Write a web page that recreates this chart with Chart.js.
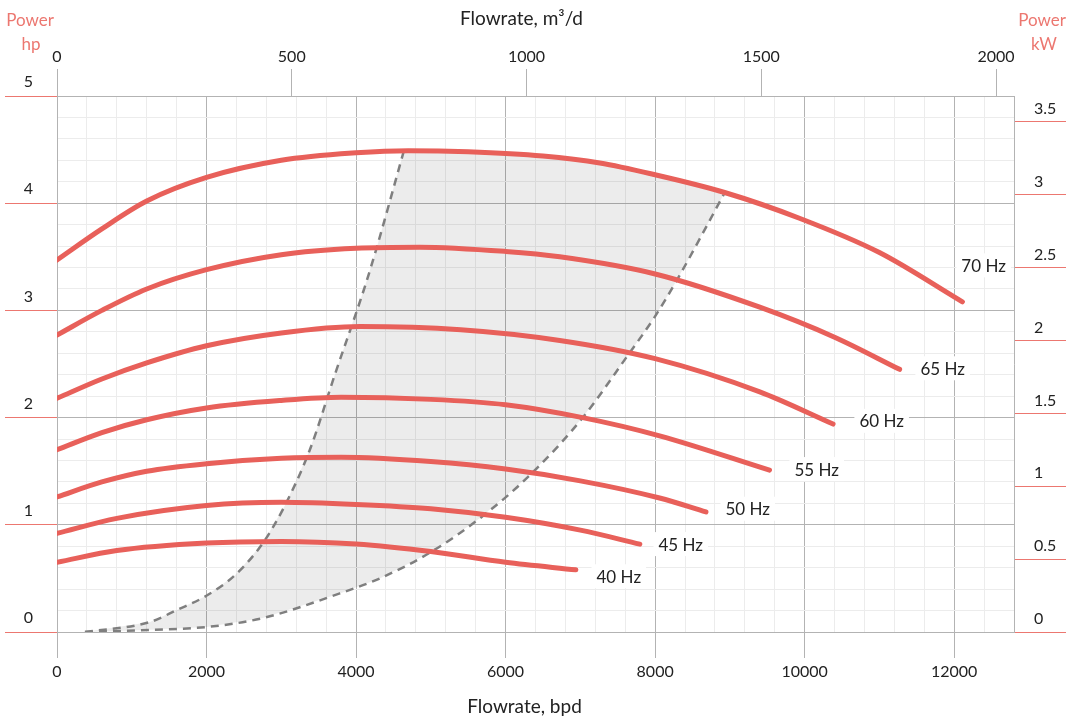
<!DOCTYPE html>
<html lang="en">
<head>
<meta charset="UTF-8">
<title>Pump power curves</title>
<script src="https://cdn.jsdelivr.net/npm/chart.js"></script>
<style>
  html, body { margin: 0; padding: 0; background: #fff; }
</style>
</head>
<body>
<canvas id="powerChart" width="1066" height="720"></canvas>
<script>
// flowrate in bpd, power in hp
const curve70 = [[0,3.47],[600,3.76],[1200,4.02],[2000,4.24],[3000,4.40],[4000,4.47],[4700,4.49],[5500,4.48],[6500,4.44],[7260,4.375],[7970,4.27],[8930,4.10],[9930,3.86],[11000,3.54],[12110,3.08]];
const curve65 = [[0,2.77],[600,3.00],[1200,3.20],[2000,3.38],[3000,3.52],[4000,3.58],[4850,3.59],[6000,3.55],[6725,3.50],[8000,3.34],[9400,3.03],[10400,2.75],[11270,2.45]];
const curve60 = [[0,2.18],[600,2.36],[1200,2.51],[2000,2.67],[3000,2.79],[4050,2.85],[5400,2.82],[6725,2.72],[8000,2.55],[9400,2.24],[10380,1.94]];
const curve55 = [[0,1.70],[600,1.86],[1200,1.98],[2000,2.09],[3000,2.16],[3800,2.19],[5000,2.17],[6000,2.12],[7030,2.00],[8060,1.83],[9530,1.51]];
const curve50 = [[0,1.26],[600,1.40],[1200,1.50],[2000,1.57],[3000,1.62],[3800,1.63],[5000,1.59],[6000,1.52],[7000,1.41],[8060,1.25],[8680,1.12]];
const curve45 = [[0,0.92],[800,1.06],[2000,1.18],[3000,1.21],[4000,1.19],[5000,1.15],[6000,1.07],[7000,0.95],[7795,0.82]];
const curve40 = [[0,0.65],[800,0.76],[2000,0.83],[3000,0.845],[4000,0.82],[5000,0.75],[6000,0.65],[6940,0.58]];

const curves = [curve70, curve65, curve60, curve55, curve50, curve45, curve40];
const hzLabels = ['70 Hz', '65 Hz', '60 Hz', '55 Hz', '50 Hz', '45 Hz', '40 Hz'];
const labelFlow = [12394, 11846, 11030, 10161, 9239, 8343, 7514];
const labelPower = [3.42, 2.46, 1.97, 1.52, 1.15, 0.82, 0.52];

// recommended operating range edges
const minFlowEdge = [[374,0],[1243,0.093],[1604,0.205],[1992,0.336],[2380,0.53],[2754,0.83],[3048,1.18],[3382,1.70],[3716,2.40],[4117,3.22],[4278,3.59],[4640,4.49]];
const maxFlowEdge = [[374,0],[1243,0.02],[2005,0.047],[2754,0.13],[3783,0.36],[4318,0.50],[4987,0.74],[5655,1.06],[6350,1.48],[7032,2.00],[7634,2.58],[7995,2.94],[8289,3.28],[8917,4.08]];

// top axis ticks, m3/d
const m3Ticks = [0, 500, 1000, 1500, 2000];

const FLOW_MAX = 12800;
const HP_MAX = 5;
const BPD_PER_M3 = 6.28;
const KW_PER_HP = 0.7355;

const RED = '#e8605a';
const RED_TICK = '#ec7770';
const MAJOR = '#b3b3b3';
const MINOR = '#ececec';
const TEXT = '#222';
const FONT = 'Lato, "Open Sans", sans-serif';

Chart.defaults.font.family = FONT;
Chart.defaults.font.size = 16;
Chart.defaults.color = TEXT;

const pts = arr => arr.map(p => ({ x: p[0], y: p[1] }));
const isWhole = v => Math.abs(v - Math.round(v)) < 1e-6;

// shaded area: up the min edge, along 70 Hz, down the max edge
const topX0 = minFlowEdge[minFlowEdge.length - 1][0];
const topX1 = maxFlowEdge[maxFlowEdge.length - 1][0];
const zone = [].concat(
  minFlowEdge,
  curve70.filter(p => p[0] > topX0 && p[0] < topX1),
  maxFlowEdge.slice().reverse()
);

const datasets = curves.map((c, i) => ({
  label: hzLabels[i],
  data: pts(c),
  borderColor: RED,
  borderWidth: 5,
  borderCapStyle: 'round',
  pointRadius: 0,
  cubicInterpolationMode: 'monotone',
  fill: false
}));
datasets.push({
  label: 'min',
  data: pts(minFlowEdge),
  borderColor: '#7f7f7f',
  borderWidth: 2.5,
  borderDash: [8, 6],
  pointRadius: 0,
  cubicInterpolationMode: 'monotone',
  fill: false
});
datasets.push({
  label: 'max',
  data: pts(maxFlowEdge),
  borderColor: '#7f7f7f',
  borderWidth: 2.5,
  borderDash: [8, 6],
  pointRadius: 0,
  cubicInterpolationMode: 'monotone',
  fill: false
});
datasets.push({
  label: 'zone',
  data: pts(zone),
  borderWidth: 0,
  borderColor: 'rgba(0,0,0,0)',
  backgroundColor: 'rgba(0,0,0,0.075)',
  pointRadius: 0,
  tension: 0,
  fill: 'shape'
});

const curveLabels = {
  id: 'curveLabels',
  afterDatasetsDraw(chart) {
    const { ctx, scales: { x, y } } = chart;
    ctx.save();
    ctx.font = '17px ' + FONT;
    ctx.textAlign = 'center';
    ctx.textBaseline = 'middle';
    hzLabels.forEach((t, i) => {
      const px = x.getPixelForValue(labelFlow[i]);
      const py = y.getPixelForValue(labelPower[i]);
      const w = ctx.measureText(t).width + 10;
      ctx.fillStyle = '#fff';
      ctx.fillRect(px - w / 2, py - 12, w, 24);
      ctx.fillStyle = TEXT;
      ctx.fillText(t, px, py + 1);
    });
    ctx.restore();
  }
};

const titles = {
  id: 'titles',
  afterDraw(chart) {
    const { ctx, chartArea: a } = chart;
    const mid = (a.left + a.right) / 2;
    ctx.save();
    ctx.textAlign = 'center';
    ctx.textBaseline = 'middle';
    ctx.fillStyle = TEXT;
    ctx.font = '19px ' + FONT;
    ctx.fillText('Flowrate, m³/d', mid - 14, 19);
    ctx.fillText('Flowrate, bpd', mid - 11, 707);
    ctx.fillStyle = RED_TICK;
    ctx.font = '17px ' + FONT;
    ctx.fillText('Power', a.left - 27, 21);
    ctx.fillText('hp', a.left - 26, 45);
    ctx.fillText('Power', a.right + 28, 21);
    ctx.fillText('kW', a.right + 30, 45);
    ctx.restore();
  }
};

new Chart(document.getElementById('powerChart'), {
  type: 'line',
  data: { datasets },
  options: {
    responsive: false,
    animation: false,
    devicePixelRatio: 1,
    layout: { padding: { left: 5, right: 0, top: 0, bottom: 0 } },
    plugins: { legend: { display: false }, tooltip: { enabled: false } },
    scales: {
      x: {
        type: 'linear', position: 'bottom', min: 0, max: FLOW_MAX,
        afterFit: s => { s.height = 88; },
        ticks: {
          stepSize: 400, autoSkip: false, maxRotation: 0, padding: 4, color: TEXT,
          callback: v => (v % 2000 === 0 ? String(v) : '')
        },
        grid: {
          color: c => (c.tick && c.tick.value % 2000 === 0 ? MAJOR : MINOR),
          tickColor: c => (c.tick && c.tick.value % 2000 === 0 ? MAJOR : 'rgba(0,0,0,0)'),
          tickLength: 26
        },
        border: { color: MAJOR }
      },
      x2: {
        type: 'linear', position: 'top', min: 0, max: FLOW_MAX / BPD_PER_M3,
        afterFit: s => { s.height = 96; },
        afterBuildTicks: s => { s.ticks = m3Ticks.map(v => ({ value: v })); },
        ticks: { autoSkip: false, maxRotation: 0, padding: 3, color: TEXT, callback: v => String(v) },
        grid: { drawOnChartArea: false, color: MAJOR, tickColor: MAJOR, tickLength: 27 },
        border: { color: MAJOR }
      },
      y: {
        type: 'linear', position: 'left', min: 0, max: HP_MAX,
        afterFit: s => { s.width = 52; },
        ticks: {
          stepSize: 0.2, autoSkip: false, padding: -28, labelOffset: -14, crossAlign: 'center', color: TEXT,
          callback: v => (isWhole(v) ? String(Math.round(v)) : '')
        },
        grid: {
          color: c => (c.tick && isWhole(c.tick.value) ? MAJOR : MINOR),
          tickColor: c => (c.tick && isWhole(c.tick.value) ? RED_TICK : 'rgba(0,0,0,0)'),
          tickLength: 52
        },
        border: { color: MAJOR }
      },
      y2: {
        type: 'linear', position: 'right', min: 0, max: HP_MAX * KW_PER_HP,
        afterFit: s => { s.width = 52; },
        ticks: { stepSize: 0.5, includeBounds: false, padding: -32, labelOffset: -13, color: TEXT, callback: v => String(v) },
        grid: { drawOnChartArea: false, color: RED_TICK, tickColor: RED_TICK, tickLength: 52 },
        border: { color: MAJOR }
      }
    }
  },
  plugins: [curveLabels, titles]
});
</script>
</body>
</html>
